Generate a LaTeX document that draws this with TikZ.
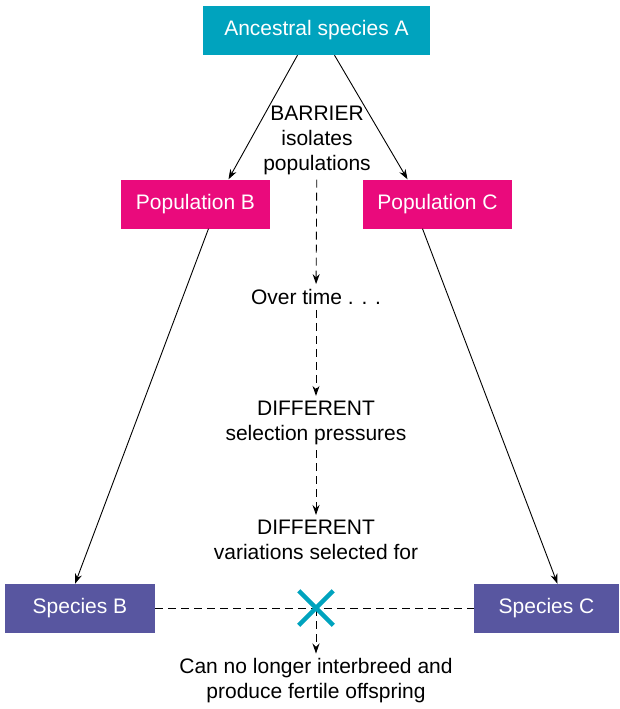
\documentclass[tikz,border=0pt]{standalone}
\usepackage{fontspec}
\setmainfont{Liberation Sans}
\usepackage{tikz}
\usetikzlibrary{arrows.meta,shapes.misc}
\definecolor{ancteal}{RGB}{0,163,190}
\definecolor{popmagenta}{RGB}{234,10,124}
\definecolor{specpurple}{RGB}{88,86,160}

\begin{document}
\begin{tikzpicture}[
x=1pt, y=-1pt,
box/.style={fill=#1, text=white, font=\fontsize{21}{25}\selectfont, minimum height=49pt, inner sep=0pt},
lbl/.style={align=center, font=\fontsize{21}{25}\selectfont, inner sep=5pt},
arr/.style={-{Stealth[length=10pt,width=7pt]}, line width=0.9pt},
dline/.style={dash pattern=on 8pt off 5pt, line width=0.9pt},
darr/.style={arr, dash pattern=on 8pt off 5pt},
xmark/.style={cross out, draw=ancteal, line width=4.5pt, minimum size=30pt, inner sep=0pt}
]
\useasboundingbox (0,0) rectangle (619,709);
% boxes
\node[box=ancteal, minimum width=227pt] (anc) at (316.5,30.5) {Ancestral species A};
\node[box=popmagenta, minimum width=149pt] (popB) at (195.5,204) {Population B};
\node[box=popmagenta, minimum width=149pt] (popC) at (437.5,204) {Population C};
\node[box=specpurple, minimum width=150pt] (specB) at (80,608.5) {Species B};
\node[box=specpurple, minimum width=145pt] (specC) at (546.5,608.5) {Species C};
% middle column
\node[lbl] (barrier) at (317,140) {BARRIER\\isolates\\populations};
\node[lbl] (overtime) at (316,297) {Over time . . .};
\node[lbl] (pressures) at (316,423) {DIFFERENT\\selection pressures};
\node[lbl] (variations) at (316,540) {DIFFERENT\\variations selected for};
\node[lbl] (result) at (316,681) {Can no longer interbreed and\\produce fertile offspring};
\coordinate (xm) at (316,608);
% connectors
\draw[arr] ([xshift=-19pt]anc.south) -- ([xshift=33pt]popB.north);
\draw[arr] ([xshift=18pt]anc.south) -- ([xshift=-30pt]popC.north);
\draw[arr] ([xshift=13pt]popB.south) -- ([xshift=-5pt]specB.north);
\draw[arr] ([xshift=-15pt]popC.south) -- ([xshift=11pt]specC.north);
\draw[darr] (barrier) -- (overtime);
\draw[darr] (overtime) -- (pressures);
\draw[darr] (pressures) -- (variations);
\draw[dline] (specB) -- (specC);
\draw[darr] (xm) -- (result);
\node[xmark] (cross) at (xm) {};
\end{tikzpicture}
\end{document}
